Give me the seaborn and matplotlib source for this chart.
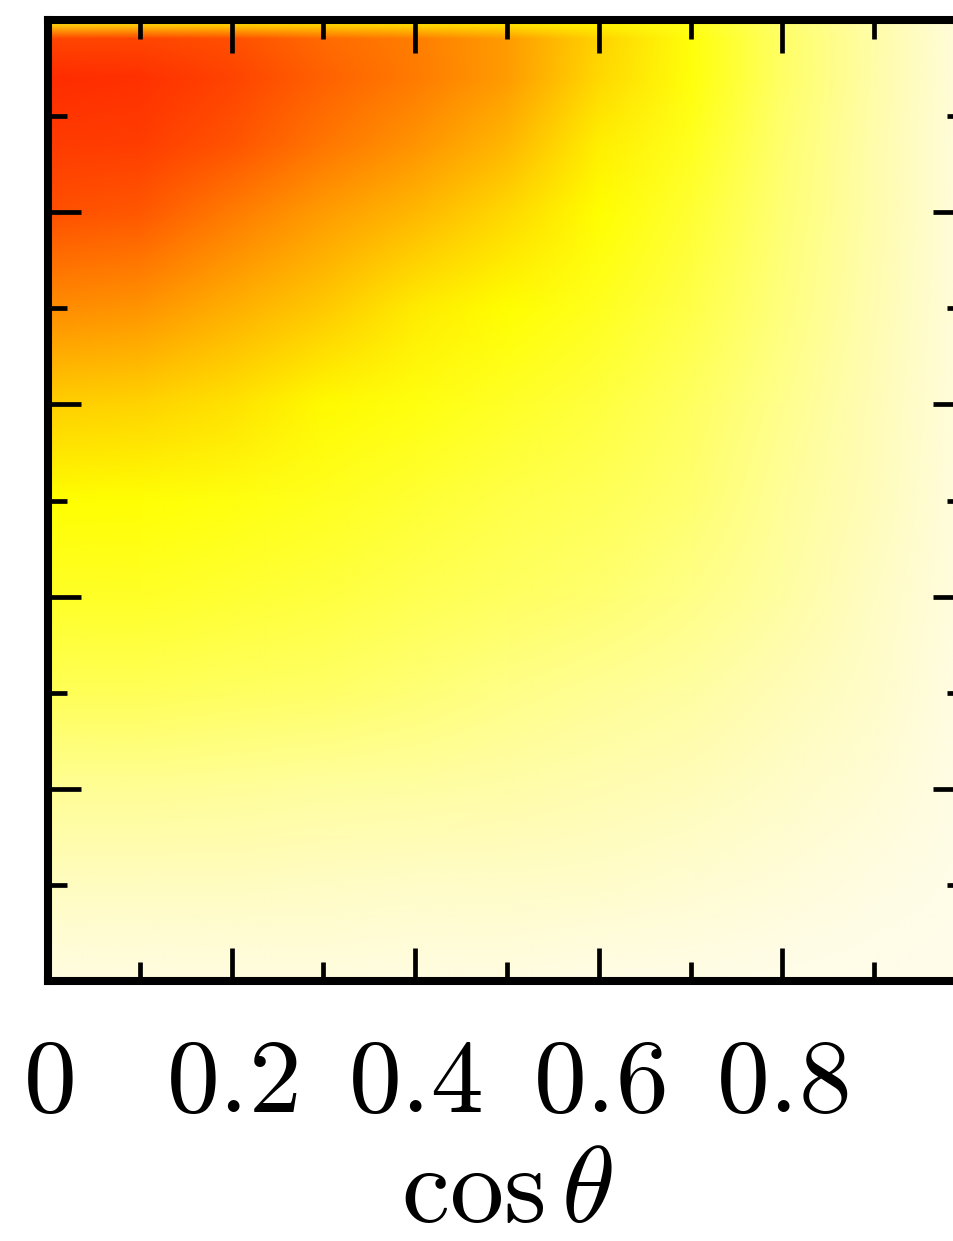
import numpy as np
import matplotlib
matplotlib.use("Agg")
import matplotlib.pyplot as plt
import seaborn as sns
from matplotlib.colors import LinearSegmentedColormap
from matplotlib.image import NonUniformImage
from matplotlib.ticker import FixedLocator, FixedFormatter

# ---------------- data ----------------
cos_theta = [0.0, 0.1, 0.2, 0.3, 0.4, 0.5, 0.6, 0.7, 0.8, 0.9, 1.0]
y_vals = [0.0, 0.05, 0.1, 0.2, 0.3, 0.4, 0.5, 0.6, 0.7, 0.8, 0.87, 0.94, 0.98, 1.0]

# intensity columns, one per cos(theta) value, bottom -> top
col_00 = [0.12, 0.16, 0.21, 0.30, 0.38, 0.43, 0.47, 0.57, 0.72, 0.86, 0.94, 1.00, 0.90, 0.45]
col_01 = [0.12, 0.16, 0.21, 0.30, 0.38, 0.43, 0.465, 0.56, 0.70, 0.84, 0.93, 0.98, 0.90, 0.46]
col_02 = [0.12, 0.16, 0.21, 0.29, 0.37, 0.42, 0.455, 0.53, 0.64, 0.76, 0.85, 0.91, 0.86, 0.47]
col_03 = [0.12, 0.16, 0.20, 0.28, 0.36, 0.41, 0.44, 0.48, 0.58, 0.68, 0.77, 0.82, 0.80, 0.48]
col_04 = [0.11, 0.15, 0.19, 0.27, 0.34, 0.39, 0.42, 0.455, 0.51, 0.62, 0.70, 0.76, 0.75, 0.48]
col_05 = [0.11, 0.15, 0.19, 0.26, 0.32, 0.37, 0.40, 0.43, 0.47, 0.55, 0.62, 0.68, 0.68, 0.48]
col_06 = [0.10, 0.14, 0.18, 0.24, 0.30, 0.35, 0.38, 0.41, 0.44, 0.47, 0.50, 0.55, 0.56, 0.47]
col_07 = [0.09, 0.13, 0.16, 0.22, 0.27, 0.32, 0.35, 0.37, 0.40, 0.42, 0.44, 0.46, 0.46, 0.44]
col_08 = [0.08, 0.11, 0.14, 0.19, 0.23, 0.27, 0.29, 0.31, 0.33, 0.34, 0.35, 0.36, 0.36, 0.35]
col_09 = [0.07, 0.09, 0.11, 0.15, 0.18, 0.20, 0.22, 0.23, 0.24, 0.25, 0.25, 0.26, 0.26, 0.25]
col_10 = [0.06, 0.07, 0.08, 0.09, 0.10, 0.11, 0.11, 0.12, 0.12, 0.12, 0.12, 0.12, 0.12, 0.12]

xtick_values = [0.0, 0.2, 0.4, 0.6, 0.8, 1.0]
xtick_labels = ["0", "0.2", "0.4", "0.6", "0.8", "1"]
minor_values = [0.1, 0.3, 0.5, 0.7, 0.9]
ytick_values = [0.0, 0.2, 0.4, 0.6, 0.8, 1.0]
x_label = r"$\cos\theta$"

# ---------------- style ----------------
sns.set_theme(style="ticks")
plt.rcParams["mathtext.fontset"] = "cm"
plt.rcParams["font.family"] = ["DejaVu Serif", "DejaVu Sans"]
plt.rcParams["text.color"] = "black"
plt.rcParams["xtick.color"] = "black"
plt.rcParams["ytick.color"] = "black"
plt.rcParams["axes.labelcolor"] = "black"

cmap = LinearSegmentedColormap.from_list(
    "heat",
    [(0.00, "#fffef4"), (0.10, "#fffce6"), (0.20, "#fffcc4"), (0.30, "#ffff95"),
     (0.40, "#ffff48"), (0.47, "#ffff00"), (0.60, "#ffc000"), (0.75, "#ff8000"),
     (0.86, "#ff5000"), (1.00, "#ff2c00")],
)

W, H = 954, 1241
fig = plt.figure(figsize=(W / 100, H / 100), dpi=100)
left, right, top, bottom = 48, 966, 20, 981
ax = fig.add_axes([left / W, 1 - bottom / H, (right - left) / W, (bottom - top) / H])

Z = np.column_stack([col_00, col_01, col_02, col_03, col_04, col_05,
                     col_06, col_07, col_08, col_09, col_10])
im = NonUniformImage(ax, interpolation="bilinear", extent=(0, 1, 0, 1),
                     cmap=cmap, norm=plt.Normalize(0, 1))
im.set_data(np.array(cos_theta), np.array(y_vals), Z)
ax.add_image(im)

ax.set_xlim(0, 1)
ax.set_ylim(0, 1)

ax.xaxis.set_major_locator(FixedLocator(xtick_values))
ax.xaxis.set_major_formatter(FixedFormatter([f"${t}$" for t in xtick_labels]))
ax.xaxis.set_minor_locator(FixedLocator(minor_values))
ax.yaxis.set_major_locator(FixedLocator(ytick_values))
ax.yaxis.set_minor_locator(FixedLocator(minor_values))
ax.set_yticklabels([])

for s in ax.spines.values():
    s.set_linewidth(5.8)
    s.set_color("black")
    s.set_zorder(5)

ax.tick_params(which="both", direction="in", top=True, right=True,
               color="black", width=3.4, labelcolor="black")
ax.tick_params(which="major", length=24, labelsize=76, pad=36)
ax.tick_params(which="minor", length=14)
ax.tick_params(axis="y", labelleft=False)

ax.set_xlabel(x_label, fontsize=78, labelpad=4, color="black")
ax.grid(False)

fig.savefig("out.png", dpi=100)
